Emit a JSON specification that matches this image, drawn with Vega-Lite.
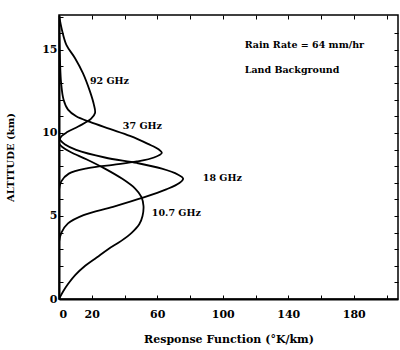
{
  "$schema": "https://vega.github.io/schema/vega-lite/v6.json",
  "autosize": "none",
  "width": 339,
  "height": 284,
  "padding": {"left": 59, "top": 15, "right": 2, "bottom": 51},
  "background": "white",
  "config": {
    "view": {"stroke": "black", "strokeWidth": 1.5},
    "font": "DejaVu Serif",
    "axis": {"grid": false, "domainColor": "black", "tickColor": "black", "labelColor": "black", "titleColor": "black", "labelFont": "DejaVu Serif", "titleFont": "DejaVu Serif", "domainWidth": 2}
  },
  "datasets": {
    "curves": [
      {"f": "92", "i": 1, "v": 0, "alt": 17.1},
      {"f": "92", "i": 2, "v": 1.8, "alt": 16.2},
      {"f": "92", "i": 3, "v": 4.5, "alt": 15.3},
      {"f": "92", "i": 4, "v": 9.8, "alt": 14.5},
      {"f": "92", "i": 5, "v": 14.6, "alt": 13.6},
      {"f": "92", "i": 6, "v": 18.9, "alt": 12.5},
      {"f": "92", "i": 7, "v": 21.3, "alt": 11.7},
      {"f": "92", "i": 8, "v": 22, "alt": 11.2},
      {"f": "92", "i": 9, "v": 19.5, "alt": 10.84},
      {"f": "92", "i": 10, "v": 12, "alt": 10.4},
      {"f": "92", "i": 11, "v": 5, "alt": 10.05},
      {"f": "92", "i": 12, "v": 1.5, "alt": 9.8},
      {"f": "92", "i": 13, "v": 0, "alt": 9.5},
      {"f": "37", "i": 1, "v": 0, "alt": 16.8},
      {"f": "37", "i": 2, "v": 0.6, "alt": 14.4},
      {"f": "37", "i": 3, "v": 1.3, "alt": 13.0},
      {"f": "37", "i": 4, "v": 2.8, "alt": 12.0},
      {"f": "37", "i": 5, "v": 5.5, "alt": 11.4},
      {"f": "37", "i": 6, "v": 10.5, "alt": 11.0},
      {"f": "37", "i": 7, "v": 18.9, "alt": 10.66},
      {"f": "37", "i": 8, "v": 31, "alt": 10.24},
      {"f": "37", "i": 9, "v": 43.3, "alt": 9.82},
      {"f": "37", "i": 10, "v": 54.3, "alt": 9.34},
      {"f": "37", "i": 11, "v": 61, "alt": 9.0},
      {"f": "37", "i": 12, "v": 62.8, "alt": 8.8},
      {"f": "37", "i": 13, "v": 58, "alt": 8.52},
      {"f": "37", "i": 14, "v": 47.6, "alt": 8.28},
      {"f": "37", "i": 15, "v": 33, "alt": 8.08},
      {"f": "37", "i": 16, "v": 17.7, "alt": 7.88},
      {"f": "37", "i": 17, "v": 6, "alt": 7.55},
      {"f": "37", "i": 18, "v": 1.5, "alt": 7.1},
      {"f": "37", "i": 19, "v": 0, "alt": 6.57},
      {"f": "18", "i": 1, "v": 0, "alt": 9.64},
      {"f": "18", "i": 2, "v": 3.7, "alt": 9.3},
      {"f": "18", "i": 3, "v": 10.5, "alt": 8.98},
      {"f": "18", "i": 4, "v": 28, "alt": 8.52},
      {"f": "18", "i": 5, "v": 47.6, "alt": 8.19},
      {"f": "18", "i": 6, "v": 62.8, "alt": 7.85},
      {"f": "18", "i": 7, "v": 72.5, "alt": 7.5},
      {"f": "18", "i": 8, "v": 75.8, "alt": 7.25},
      {"f": "18", "i": 9, "v": 73.5, "alt": 6.98},
      {"f": "18", "i": 10, "v": 65.5, "alt": 6.6},
      {"f": "18", "i": 11, "v": 51.2, "alt": 6.1},
      {"f": "18", "i": 12, "v": 33, "alt": 5.55},
      {"f": "18", "i": 13, "v": 15, "alt": 5.05},
      {"f": "18", "i": 14, "v": 5.5, "alt": 4.55},
      {"f": "18", "i": 15, "v": 1.5, "alt": 4.0},
      {"f": "18", "i": 16, "v": 0, "alt": 3.43},
      {"f": "10.7", "i": 1, "v": 0, "alt": 0},
      {"f": "10.7", "i": 2, "v": 2.5, "alt": 0.45},
      {"f": "10.7", "i": 3, "v": 5.5, "alt": 0.9},
      {"f": "10.7", "i": 4, "v": 10, "alt": 1.45},
      {"f": "10.7", "i": 5, "v": 16, "alt": 2.0},
      {"f": "10.7", "i": 6, "v": 23, "alt": 2.5},
      {"f": "10.7", "i": 7, "v": 30, "alt": 3.0},
      {"f": "10.7", "i": 8, "v": 38, "alt": 3.5},
      {"f": "10.7", "i": 9, "v": 44.5, "alt": 4.0},
      {"f": "10.7", "i": 10, "v": 49, "alt": 4.5},
      {"f": "10.7", "i": 11, "v": 51, "alt": 5.0},
      {"f": "10.7", "i": 12, "v": 51.6, "alt": 5.6},
      {"f": "10.7", "i": 13, "v": 50.3, "alt": 6.15},
      {"f": "10.7", "i": 14, "v": 46.5, "alt": 6.65},
      {"f": "10.7", "i": 15, "v": 38.4, "alt": 7.25},
      {"f": "10.7", "i": 16, "v": 28, "alt": 7.85},
      {"f": "10.7", "i": 17, "v": 17, "alt": 8.4},
      {"f": "10.7", "i": 18, "v": 7, "alt": 8.85},
      {"f": "10.7", "i": 19, "v": 2, "alt": 9.15},
      {"f": "10.7", "i": 20, "v": 0, "alt": 9.35}
    ],
    "labels": [
      {"t": "92 GHz", "v": 18.9, "alt": 13.1},
      {"t": "37 GHz", "v": 39, "alt": 10.4},
      {"t": "18 GHz", "v": 87.8, "alt": 7.3},
      {"t": "10.7 GHz", "v": 56.7, "alt": 5.2},
      {"t": "Rain Rate = 64 mm/hr", "v": 113.4, "alt": 15.3},
      {"t": "Land Background", "v": 113.4, "alt": 13.8}
    ]
  },
  "layer": [
    {
      "data": {"name": "curves"},
      "mark": {"type": "line", "color": "black", "strokeWidth": 1.8, "clip": true, "interpolate": "catmull-rom"},
      "encoding": {
        "x": {"field": "v", "type": "quantitative", "scale": {"domain": [0, 207], "nice": false},
          "axis": {"orient": "bottom", "values": [0, 20, 40, 60, 80, 100, 120, 140, 160, 180, 200],
            "labelExpr": "indexof([0, 20, 60, 100, 140, 180], datum.value) >= 0 ? datum.label : ''",
            "tickSize": -4, "labelPadding": 13, "labelFontSize": 11, "labelFontWeight": "bold",
            "title": "Response Function (°K/km)", "titleFontSize": 11, "titleFontWeight": "bold", "titlePadding": 14}},
        "y": {"field": "alt", "type": "quantitative", "scale": {"domain": [0, 17.1], "nice": false},
          "axis": {"orient": "left", "values": [0, 1, 2, 3, 4, 5, 6, 7, 8, 9, 10, 11, 12, 13, 14, 15, 16, 17],
            "labelExpr": "datum.value % 5 == 0 ? datum.label : ''",
            "tickSize": -4, "labelPadding": 6, "labelFontSize": 11, "labelFontWeight": "bold",
            "title": "ALTITUDE (km)", "titleFontSize": 10, "titleFontWeight": "bold", "titlePadding": 26}},
        "detail": {"field": "f"},
        "order": {"field": "i", "type": "quantitative"}
      }
    },
    {
      "data": {"name": "labels"},
      "mark": {"type": "text", "align": "left", "baseline": "middle", "fontSize": 9.5, "fontWeight": "bold", "color": "black"},
      "encoding": {
        "x": {"field": "v", "type": "quantitative",
          "axis": {"orient": "top", "values": [20, 40, 60, 80, 100, 120, 140, 160, 180, 200], "labels": false, "title": null, "tickSize": -4, "domain": false}},
        "y": {"field": "alt", "type": "quantitative",
          "axis": {"orient": "right", "values": [1, 2, 3, 4, 5, 6, 7, 8, 9, 10, 11, 12, 13, 14, 15, 16], "labels": false, "title": null, "tickSize": -4, "domain": false}},
        "text": {"field": "t"}
      }
    }
  ],
  "resolve": {"axis": {"x": "independent", "y": "independent"}}
}
